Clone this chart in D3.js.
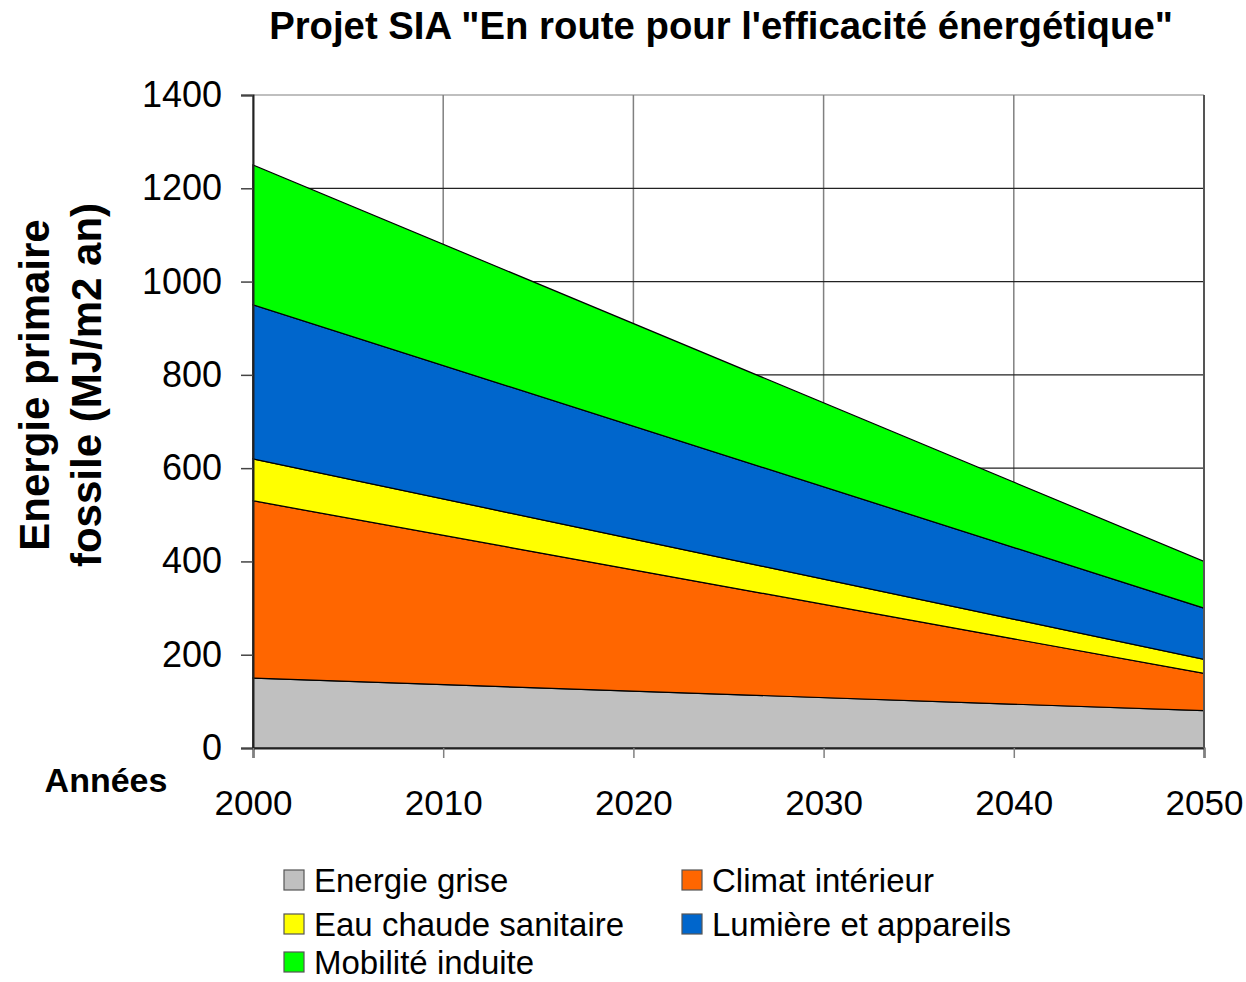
<!DOCTYPE html>
<html><head><meta charset="utf-8">
<script src="https://cdn.jsdelivr.net/npm/d3@7"></script>
<style>body{margin:0;background:#fff;} text{font-family:"Liberation Sans",Arial,sans-serif;}</style>
</head><body>
<svg id="c" width="1246" height="982"></svg>
<script>
const years = [2000, 2050];
const seriesNames = ["Energie grise","Climat intérieur","Eau chaude sanitaire","Lumière et appareils","Mobilité induite"];
const energieGrise = [150, 80];
const climatInterieur = [380, 80];
const eauChaude = [90, 30];
const lumiere = [330, 110];
const mobilite = [300, 100];
const xTicks = [2000, 2010, 2020, 2030, 2040, 2050];
const yTicks = [0, 200, 400, 600, 800, 1000, 1200, 1400];
const colors = ["#C0C0C0","#FF6600","#FFFF00","#0066CC","#00FF00"];

const seriesValues = [energieGrise, climatInterieur, eauChaude, lumiere, mobilite];
const rows = years.map((y,i)=>{const r={year:y}; seriesNames.forEach((n,k)=>r[n]=seriesValues[k][i]); return r;});
const svg = d3.select("#c");
const L=253,R=1204,T=95,B=748;
const x = d3.scaleLinear().domain([2000,2050]).range([L,R]);
const y = d3.scaleLinear().domain([0,1400]).range([B,T]);

// grid
svg.append("g").selectAll("line").data(xTicks).join("line")
  .attr("x1",d=>x(d)).attr("x2",d=>x(d)).attr("y1",T).attr("y2",B)
  .attr("stroke","#808080").attr("stroke-width",1.5);
svg.append("g").selectAll("line").data(yTicks.filter(d=>d>0)).join("line")
  .attr("x1",L).attr("x2",R).attr("y1",d=>y(d)).attr("y2",d=>y(d))
  .attr("stroke",d=>d===1400?"#808080":"#222").attr("stroke-width",1.2);

const stack = d3.stack().keys(seriesNames)(rows);
const area = d3.area().x(d=>x(d.data.year)).y0(d=>y(d[0])).y1(d=>y(d[1]));
svg.append("g").selectAll("path").data(stack).join("path")
  .attr("d",area).attr("fill",(d,i)=>colors[i]).attr("stroke","#000").attr("stroke-width",1.2);

// axes
const ya = svg.append("g").attr("transform",`translate(${L},0)`)
  .call(d3.axisLeft(y).tickValues(yTicks).tickSize(12).tickPadding(19).tickFormat(d3.format("d")));
ya.select(".domain").attr("stroke","#222").attr("stroke-width",2);
ya.selectAll(".tick line").attr("stroke","#444").attr("stroke-width",1.5);
ya.selectAll("text").attr("font-size",36).attr("fill","#000").attr("font-family","Liberation Sans, Arial");
const xa = svg.append("g").attr("transform",`translate(0,${B})`)
  .call(d3.axisBottom(x).tickValues(xTicks).tickSize(10).tickPadding(32).tickFormat(d3.format("d")));
xa.select(".domain").attr("stroke","#222").attr("stroke-width",2);
xa.selectAll(".tick line").attr("stroke","#808080").attr("stroke-width",1.5);
xa.selectAll("text").attr("font-size",35).attr("fill","#000").attr("font-family","Liberation Sans, Arial");
svg.append("line").attr("x1",R).attr("x2",R).attr("y1",T).attr("y2",B).attr("stroke","#555").attr("stroke-width",2);

// titles
svg.append("text").attr("x",721).attr("y",39).attr("text-anchor","middle")
  .attr("font-size",38.3).attr("font-weight","bold").text('Projet SIA "En route pour l\'efficacité énergétique"');
svg.append("text").attr("x",106).attr("y",792).attr("text-anchor","middle")
  .attr("font-size",34).attr("font-weight","bold").text("Années");
const yt = svg.append("text").attr("transform","translate(49,385) rotate(-90)").attr("text-anchor","middle")
  .attr("font-size",42).attr("font-weight","bold");
yt.append("tspan").attr("x",0).attr("dy",0).text("Energie primaire");
yt.append("tspan").attr("x",0).attr("dy",52).text("fossile (MJ/m2 an)");

// legend
const legPos = [[284,880],[682,880],[284,924],[682,924],[284,962]];
const lg = svg.append("g").selectAll("g").data(seriesNames).join("g")
  .attr("transform",(d,i)=>`translate(${legPos[i][0]},${legPos[i][1]})`);
lg.append("rect").attr("x",0).attr("y",-10).attr("width",20).attr("height",20)
  .attr("fill",(d,i)=>colors[i]).attr("stroke","#555").attr("stroke-width",1.2);
lg.append("text").attr("x",30).attr("y",12).attr("font-size",33).text(d=>d);
</script>
</body></html>
